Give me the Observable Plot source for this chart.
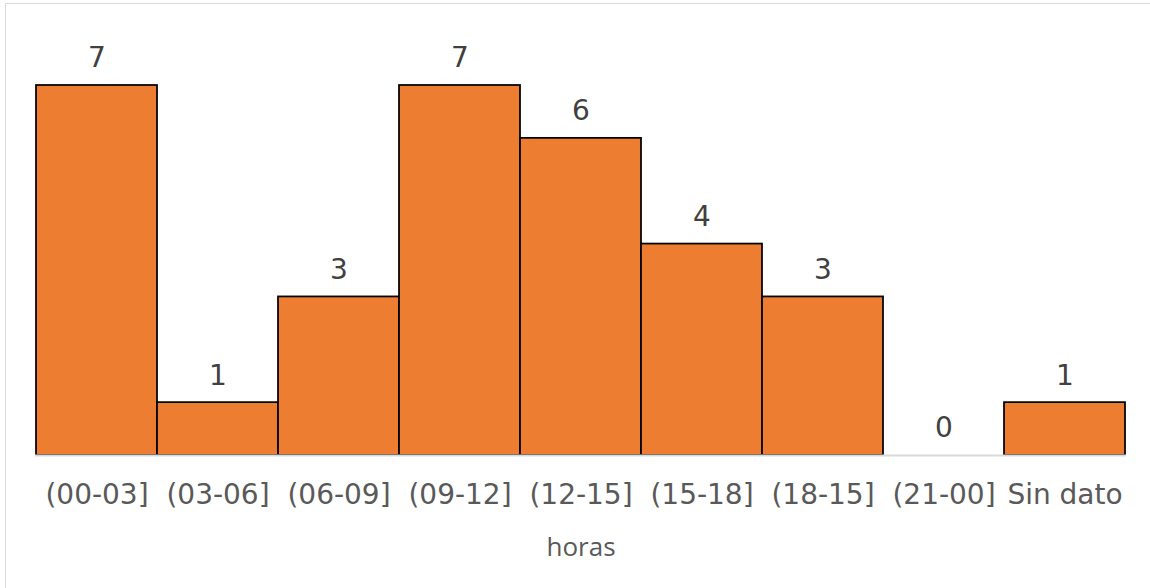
<!DOCTYPE html>
<html>
<head>
<meta charset="utf-8">
<script src="https://cdn.jsdelivr.net/npm/d3@7"></script>
<script src="https://cdn.jsdelivr.net/npm/@observablehq/plot@0.6"></script>
<style>
  html, body { margin: 0; padding: 0; background: #fff; }
  #wrap { position: relative; width: 1150px; height: 588px; overflow: hidden; }
  #frame { position: absolute; left: 5px; top: 3px; width: 1200px; height: 700px;
           border-top: 1.5px solid #d9d9d9; border-left: 1.5px solid #d9d9d9; pointer-events: none; }
  svg { display: block; }
</style>
</head>
<body>
<div id="wrap"><div id="frame"></div></div>
<script>
const categories = ["(00-03]", "(03-06]", "(06-09]", "(09-12]", "(12-15]", "(15-18]", "(18-15]", "(21-00]", "Sin dato"];
const values = [7, 1, 3, 7, 6, 4, 3, 0, 1];
const axisTitle = "horas";

const data = categories.map((c, i) => ({cat: c, value: values[i]}));

const chart = Plot.plot({
  width: 1150,
  height: 588,
  marginLeft: 35,
  marginRight: 24,
  marginTop: 85,
  marginBottom: 133,
  style: {fontFamily: "'DejaVu Sans', 'Liberation Sans', Arial, sans-serif", background: "transparent"},
  x: {domain: categories, padding: 0, label: null},
  y: {domain: [0, 7], axis: null},
  marks: [
    Plot.barY(data, {x: "cat", y: "value", fill: "#ED7D31", stroke: "#000", strokeWidth: 1.75, filter: d => d.value > 0}),
    Plot.ruleY([0], {stroke: "#d9d9d9", strokeWidth: 2}),
    Plot.text(data, {x: "cat", y: "value", text: d => String(d.value), dy: -27, fontSize: 28, fill: "#404040"}),
    Plot.axisX({tickSize: 0, tickPadding: 29, fontSize: 28, fill: "#595959", label: null}),
    Plot.text([axisTitle], {frameAnchor: "bottom", dy: 100, fontSize: 26, fill: "#595959", fontFamily: "'Open Sans', sans-serif"})
  ]
});
document.getElementById("wrap").prepend(chart);
</script>
</body>
</html>
